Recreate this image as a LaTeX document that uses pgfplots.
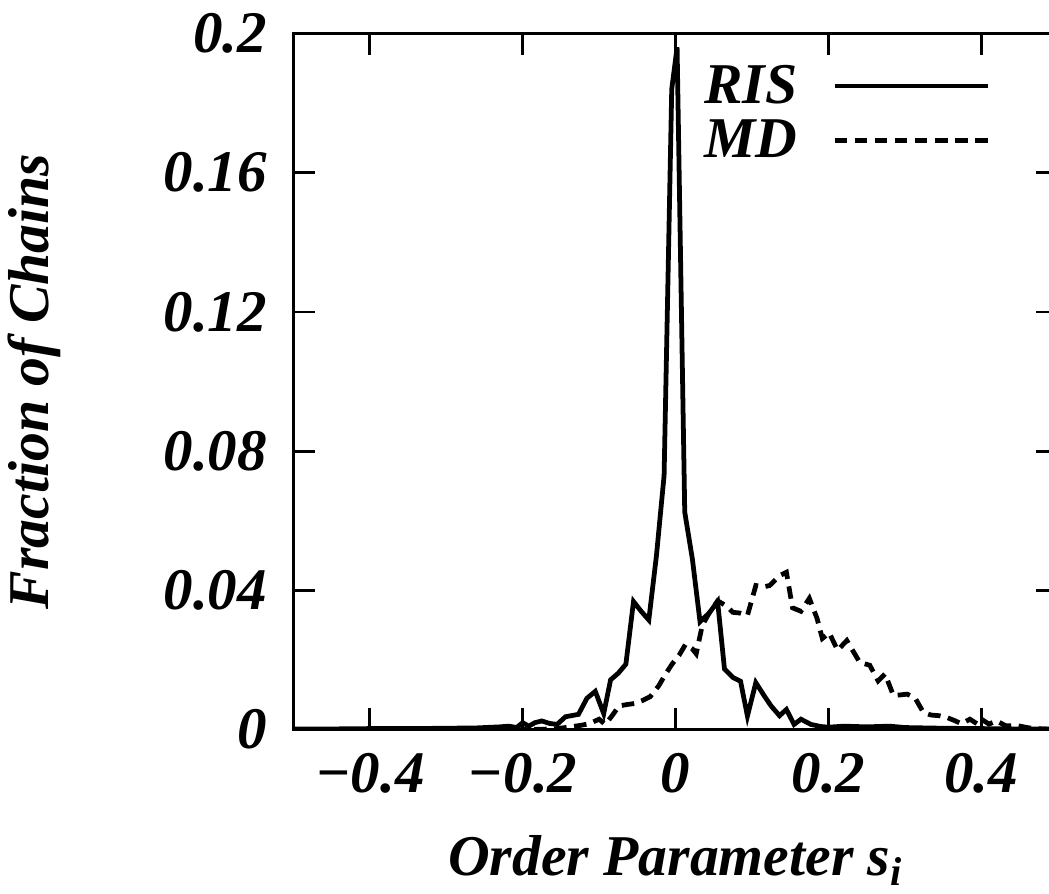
\documentclass[border=0pt]{standalone}
\usepackage{fontspec}
\setmainfont{Liberation Serif}
\usepackage{pgfplots}
\pgfplotsset{compat=1.18}

\begin{document}
\begin{tikzpicture}
\begin{axis}[
  scale only axis, width=304.8pt, height=277.6pt,
  xmin=-0.5, xmax=0.5, ymin=0, ymax=0.2,
  xtick={-0.4,-0.2,0,0.2,0.4}, xticklabels={−0.4,−0.2,0,0.2,0.4},
  ytick={0,0.04,0.08,0.12,0.16,0.2}, yticklabels={0,0.04,0.08,0.12,0.16,0.2},
  tick align=inside, major tick length=8.8pt,
  every tick/.style={black, line width=1.1pt},
  axis line style={line width=1.3pt},
  ticklabel style={font=\fontsize{23.5}{27}\selectfont\bfseries\itshape},
  xticklabel style={yshift=-6pt},
  yticklabel style={xshift=-7pt},
  label style={font=\fontsize{23}{27}\selectfont\bfseries\itshape},
  xlabel={Order Parameter s\textsubscript{i}},
  ylabel={Fraction of Chains},
  xlabel style={yshift=-10pt},
  ylabel style={yshift=34pt},
  legend plot pos=right, legend cell align=right,
  legend style={at={(axis cs:0.412,0.1925)}, anchor=north east,
    draw=none, fill=none, font=\fontsize{23}{27}\selectfont\bfseries\itshape,
    row sep=1pt, inner sep=0pt},
  legend image code/.code={\path (0pt,0pt); \draw[#1] (12pt,0pt) -- (73pt,0pt);},
  every axis plot/.append style={line width=1.9pt, black},
]
\addplot[solid] coordinates {
(-0.5,0.0002)(-0.45,0.0002)(-0.4,0.0003)(-0.35,0.0003)(-0.3,0.0004)(-0.26,0.0005)
(-0.23,0.0008)(-0.218,0.0010)(-0.208,0.0006)(-0.200,0.0020)(-0.192,0.0010)
(-0.184,0.0020)(-0.175,0.0025)(-0.165,0.0018)(-0.155,0.0015)(-0.144,0.0037)
(-0.127,0.0044)(-0.116,0.0090)(-0.105,0.0110)(-0.094,0.0046)(-0.085,0.0143)
(-0.075,0.0162)(-0.065,0.0188)(-0.055,0.0368)(-0.045,0.0340)(-0.035,0.0315)
(-0.025,0.0500)(-0.015,0.0730)(-0.005,0.1840)(0.002,0.1960)(0.012,0.0625)
(0.022,0.0490)(0.032,0.0310)(0.044,0.0335)(0.055,0.0368)(0.064,0.0174)
(0.075,0.0150)(0.085,0.0139)(0.094,0.0039)(0.105,0.0135)(0.116,0.0097)
(0.125,0.0068)(0.136,0.0040)(0.145,0.0058)(0.155,0.0015)(0.164,0.0030)
(0.177,0.0015)(0.19,0.0009)(0.2,0.0007)(0.22,0.0010)(0.25,0.0008)(0.28,0.0010)
(0.3,0.0006)(0.35,0.0004)(0.4,0.0003)(0.45,0.0002)(0.5,0.0002)};
\addlegendentry{RIS}
\addplot[dash pattern=on 5pt off 3pt] coordinates {
(-0.5,0)(-0.2,0)(-0.16,0.0002)(-0.144,0.0006)(-0.125,0.0012)(-0.113,0.0017)
(-0.100,0.0030)(-0.092,0.0015)(-0.083,0.0040)(-0.074,0.0068)(-0.064,0.0072)
(-0.054,0.0075)(-0.044,0.0083)(-0.033,0.0095)(-0.022,0.0126)(-0.013,0.0160)
(-0.004,0.0190)(0.005,0.0215)(0.013,0.0245)(0.022,0.0232)(0.027,0.0218)
(0.035,0.0300)(0.044,0.0335)(0.055,0.0370)(0.066,0.0356)(0.075,0.0337)
(0.084,0.0335)(0.094,0.0328)(0.105,0.0414)(0.115,0.0410)(0.123,0.0414)
(0.136,0.0442)(0.145,0.0452)(0.153,0.0350)(0.164,0.0340)(0.175,0.0377)
(0.185,0.0320)(0.192,0.0262)(0.201,0.0278)(0.212,0.0228)(0.224,0.0256)
(0.241,0.0193)(0.254,0.0185)(0.265,0.0140)(0.274,0.0160)(0.285,0.0098)
(0.295,0.0100)(0.303,0.0102)(0.313,0.0092)(0.324,0.0050)(0.334,0.0042)
(0.345,0.0040)(0.356,0.0034)(0.365,0.0026)(0.374,0.0017)(0.385,0.0030)
(0.395,0.0016)(0.400,0.0030)(0.410,0.0016)(0.420,0.0025)(0.432,0.0011)
(0.446,0.0012)(0.46,0.0006)(0.47,0.0003)(0.5,0)};
\addlegendentry{MD}
\coordinate (cropR) at (axis cs:0.4885,0);
\end{axis}
\path (current bounding box.south west) coordinate (bbSW)
      (current bounding box.north east) coordinate (bbNE);
\pgfresetboundingbox
\path[use as bounding box] (bbSW) rectangle ([yshift=2pt]cropR |- bbNE);
\end{tikzpicture}
\end{document}
